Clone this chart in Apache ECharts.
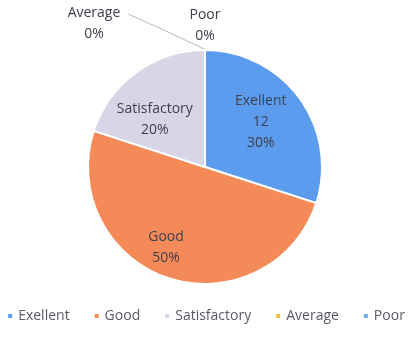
<!DOCTYPE html>
<html>
<head>
<meta charset="utf-8">
<script src="https://cdn.jsdelivr.net/npm/echarts@6/dist/echarts.min.js"></script>
<style>
html,body{margin:0;padding:0;background:#ffffff;}
#chart{width:411px;height:353px;}
</style>
</head>
<body>
<div id="chart"></div>
<script>
const categories = ['Exellent', 'Good', 'Satisfactory', 'Average', 'Poor'];
const values = [12, 20, 8, 0, 0];
const colors = ['#5b9cee', '#f58a59', '#d8d5e6', '#f3bd3e', '#6cb0e8'];

const chart = echarts.init(document.getElementById('chart'), null, {renderer: 'canvas'});
const textColor = '#40404c';
const fontFamily = '"Open Sans", "Noto Sans", sans-serif';

// label adjustments (pixels) relative to default inside-label positions
const insideShift = {0: [6, -9], 1: [-20, 22], 2: [-14, 2]};

const data = categories.map((c, i) => ({
  name: c,
  value: values[i],
  itemStyle: {color: colors[i]},
  label: {position: values[i] > 0 ? 'inside' : 'outside'}
}));

chart.setOption({
  animation: false,
  backgroundColor: '#ffffff',
  legend: {
    bottom: 25,
    left: 'center',
    itemWidth: 6,
    itemHeight: 6,
    itemGap: 23,
    icon: 'rect',
    textStyle: {color: '#5a5a66', fontSize: 14, fontFamily: fontFamily},
    data: categories
  },
  series: [{
    type: 'pie',
    center: [205, 167],
    radius: 117,
    startAngle: 90,
    clockwise: true,
    avoidLabelOverlap: false,
    itemStyle: {borderColor: '#ffffff', borderWidth: 2},
    label: {
      color: textColor,
      fontSize: 14,
      lineHeight: 21,
      fontFamily: fontFamily,
      formatter: p => p.dataIndex === 0 ? p.name + '\n' + p.value + '\n' + p.percent + '%' : p.name + '\n' + p.percent + '%'
    },
    labelLine: {show: true, length: 10, length2: 10, lineStyle: {color: '#b8b8c0', width: 1}},
    labelLayout: function (p) {
      const s = insideShift[p.dataIndex];
      if (s) return {dx: s[0], dy: s[1]};
      if (p.dataIndex === 3) {
        return {x: 94, y: 24, align: 'center', verticalAlign: 'middle',
          labelLinePoints: [[204, 49], [166, 31], [128, 14]]};
      }
      return {x: 205, y: 26, align: 'center', verticalAlign: 'middle',
        labelLinePoints: [[205, 49], [205, 48.5], [205, 48]]};
    },
    emphasis: {disabled: true},
    data: data
  }]
});
</script>
</body>
</html>
